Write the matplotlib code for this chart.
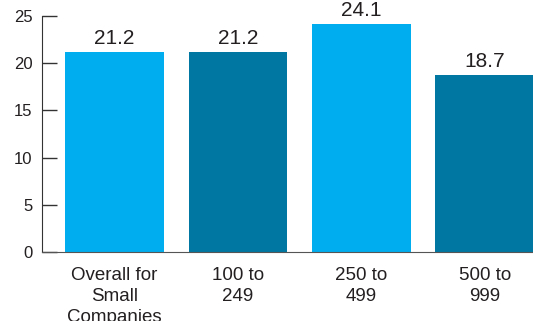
import matplotlib.pyplot as plt

plt.rcParams['font.family'] = ['Liberation Sans', 'DejaVu Sans']

# average values by company size
groups = ['Overall for\nSmall\nCompanies', '100 to\n249', '250 to\n499', '500 to\n999']
values = [21.2, 21.2, 24.1, 18.7]
colors = ['#00aeef', '#0077a2', '#00aeef', '#0077a2']
text_color = '#231f20'

fig = plt.figure(figsize=(5.33, 3.21), dpi=100)
ax = fig.add_axes([42 / 533, 1 - 252 / 321, 1 - 42 / 533, (252 - 16) / 321])

x = range(len(values))
bars = ax.bar(x, values, width=0.8, color=colors, zorder=2)

for b, v in zip(bars, values):
    ax.text(b.get_x() + b.get_width() / 2, v + 0.45, f'{v:.1f}',
            ha='center', va='bottom', fontsize=15, color=text_color)

ax.set_xlim(-0.587, 3.39)
ax.set_ylim(0, 25)
ax.set_yticks(range(0, 26, 5))
ax.set_xticks(list(x))
ax.set_xticklabels(groups, linespacing=1.32)

ax.spines['top'].set_visible(False)
ax.spines['right'].set_visible(False)
ax.spines['left'].set_color('#333333')
ax.spines['bottom'].set_color('#555555')
ax.tick_params(axis='y', direction='in', length=11, width=1, colors='#333333',
               labelcolor=text_color, labelsize=12, pad=7)
ax.tick_params(axis='x', length=0, labelcolor=text_color, labelsize=13.5, pad=10.5)

fig.savefig('out.png', dpi=100)
